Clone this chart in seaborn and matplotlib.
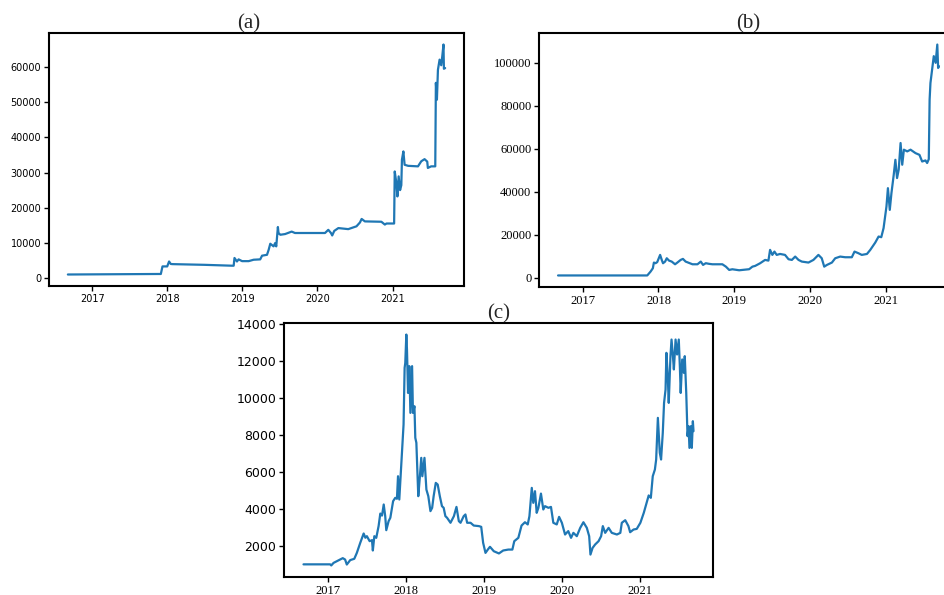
import matplotlib
matplotlib.use("Agg")
import matplotlib.pyplot as plt
import matplotlib.dates as mdates
import pandas as pd
import seaborn as sns

# ---------------- data ----------------
a_dates = ["2016-09-05", "2017-12-01", "2017-12-09", "2017-12-17", "2018-01-01", "2018-01-10",
           "2018-01-18", "2018-01-26", "2018-07-02", "2018-11-12", "2018-11-20", "2018-11-24",
           "2018-12-06", "2018-12-14", "2018-12-31", "2019-02-01", "2019-02-25", "2019-03-29",
           "2019-04-07", "2019-05-01", "2019-05-09", "2019-05-17", "2019-06-02", "2019-06-10",
           "2019-06-15", "2019-06-23", "2019-06-26", "2019-07-05", "2019-07-28", "2019-08-29",
           "2019-09-14", "2020-02-07", "2020-02-23", "2020-03-07", "2020-03-13", "2020-03-23",
           "2020-04-12", "2020-05-30", "2020-07-09", "2020-07-26", "2020-08-03", "2020-08-19",
           "2020-11-07", "2020-11-24", "2020-12-02", "2021-01-08", "2021-01-11", "2021-01-19",
           "2021-01-24", "2021-01-30", "2021-02-06", "2021-02-12", "2021-02-15", "2021-02-22",
           "2021-02-28", "2021-03-17", "2021-05-04", "2021-05-20", "2021-06-05", "2021-06-18",
           "2021-06-21", "2021-07-07", "2021-07-27", "2021-07-30", "2021-08-04", "2021-08-09",
           "2021-08-17", "2021-08-25", "2021-08-30", "2021-09-05", "2021-09-07", "2021-09-13"]
a_values = [1000, 1150, 3300, 3300, 3300, 4700,
            4000, 3950, 3750, 3500, 3500, 5700,
            4700, 5300, 4800, 4800, 5200, 5300,
            6350, 6600, 8000, 9750, 9000, 9950,
            9000, 14500, 12800, 12300, 12500, 13200,
            12800, 12800, 13700, 12800, 12100, 13400,
            14200, 13900, 14700, 15800, 16800, 16100,
            16000, 15200, 15500, 15500, 30300, 27000,
            23200, 28900, 25000, 26400, 33650, 36000,
            32200, 31900, 31750, 33200, 33800, 33100,
            31300, 31750, 31750, 55500, 50700, 59200,
            62100, 60500, 63000, 66400, 59500, 59700]

b_dates = ["2016-09-04", "2017-11-08", "2017-11-24", "2017-12-05", "2017-12-10", "2017-12-18",
           "2017-12-26", "2018-01-09", "2018-01-17", "2018-01-23", "2018-02-02", "2018-02-10",
           "2018-02-21", "2018-03-06", "2018-03-22", "2018-04-02", "2018-04-18", "2018-04-29",
           "2018-05-12", "2018-06-14", "2018-07-08", "2018-07-24", "2018-08-04", "2018-08-17",
           "2018-09-02", "2018-09-18", "2018-11-05", "2018-11-22", "2018-12-08", "2018-12-23",
           "2019-01-25", "2019-03-14", "2019-03-30", "2019-04-12", "2019-05-06", "2019-05-30",
           "2019-06-15", "2019-06-23", "2019-07-04", "2019-07-14", "2019-07-25", "2019-08-10",
           "2019-09-03", "2019-09-20", "2019-10-06", "2019-10-22", "2019-11-07", "2019-11-23",
           "2019-12-25", "2020-01-18", "2020-02-11", "2020-02-27", "2020-03-10", "2020-03-23",
           "2020-04-16", "2020-05-02", "2020-05-26", "2020-06-19", "2020-07-21", "2020-08-03",
           "2020-08-22", "2020-09-07", "2020-10-02", "2020-10-18", "2020-11-11", "2020-11-27",
           "2020-12-10", "2020-12-21", "2021-01-04", "2021-01-11", "2021-01-20", "2021-01-28",
           "2021-02-08", "2021-02-16", "2021-02-24", "2021-03-04", "2021-03-13", "2021-03-21",
           "2021-03-29", "2021-04-14", "2021-04-30", "2021-05-24", "2021-06-12", "2021-06-25",
           "2021-07-11", "2021-07-19", "2021-07-27", "2021-07-31", "2021-08-04", "2021-08-12",
           "2021-08-20", "2021-08-29", "2021-09-06", "2021-09-10", "2021-09-14"]
b_values = [1000, 1000, 2800, 4350, 7000, 6700,
            7200, 10560, 8200, 6680, 7450, 9000,
            7900, 7450, 6200, 6990, 8230, 8700,
            7450, 6200, 6200, 7450, 5900, 6700,
            6400, 6200, 6200, 5100, 3570, 3880,
            3410, 3900, 5100, 5440, 6680, 8230,
            7900, 12900, 10560, 12100, 10560, 11000,
            10560, 8540, 8230, 9780, 8230, 7450,
            7000, 8230, 10560, 9000, 5100, 5900,
            7000, 9000, 9780, 9470, 9470, 12100,
            11330, 10560, 11000, 12900, 16300, 19100,
            18800, 23000, 33100, 41600, 31500, 39300,
            47800, 54800, 46300, 50200, 62600, 52500,
            59500, 58700, 59500, 57900, 57100, 54000,
            54500, 53300, 55100, 82800, 90500, 96750,
            103000, 99900, 108400, 97500, 98300]

c_dates = ["2016-09-08", "2017-01-11", "2017-01-16", "2017-01-27", "2017-02-11", "2017-02-27",
           "2017-03-11", "2017-03-22", "2017-03-30", "2017-04-15", "2017-05-04", "2017-05-16",
           "2017-06-01", "2017-06-17", "2017-06-25", "2017-07-02", "2017-07-15", "2017-07-26",
           "2017-07-30", "2017-08-06", "2017-08-15", "2017-08-26", "2017-09-03", "2017-09-11",
           "2017-09-19", "2017-09-26", "2017-10-01", "2017-10-12", "2017-10-20", "2017-11-02",
           "2017-11-12", "2017-11-20", "2017-11-25", "2017-12-01", "2017-12-09", "2017-12-17",
           "2017-12-21", "2017-12-26", "2017-12-29", "2018-01-03", "2018-01-06", "2018-01-11",
           "2018-01-17", "2018-01-22", "2018-01-30", "2018-02-03", "2018-02-10", "2018-02-14",
           "2018-02-19", "2018-02-28", "2018-03-07", "2018-03-14", "2018-03-19", "2018-03-29",
           "2018-04-07", "2018-04-16", "2018-04-26", "2018-05-04", "2018-05-11", "2018-05-21",
           "2018-05-30", "2018-06-09", "2018-06-19", "2018-06-27", "2018-07-05", "2018-07-13",
           "2018-07-29", "2018-08-14", "2018-08-26", "2018-09-06", "2018-09-14", "2018-09-29",
           "2018-10-07", "2018-10-15", "2018-10-31", "2018-11-15", "2018-12-09", "2018-12-20",
           "2018-12-29", "2019-01-09", "2019-01-20", "2019-01-30", "2019-02-17", "2019-03-13",
           "2019-04-02", "2019-04-26", "2019-05-15", "2019-05-24", "2019-06-12", "2019-06-27",
           "2019-07-13", "2019-07-26", "2019-08-03", "2019-08-14", "2019-08-21", "2019-08-29",
           "2019-09-06", "2019-09-14", "2019-09-26", "2019-10-07", "2019-10-15", "2019-10-31",
           "2019-11-12", "2019-11-23", "2019-12-09", "2019-12-20", "2020-01-02", "2020-01-17",
           "2020-02-01", "2020-02-14", "2020-02-25", "2020-03-12", "2020-03-28", "2020-04-12",
           "2020-04-28", "2020-05-09", "2020-05-15", "2020-05-25", "2020-06-06", "2020-06-22",
           "2020-07-04", "2020-07-12", "2020-07-23", "2020-08-08", "2020-08-23", "2020-09-16",
           "2020-10-02", "2020-10-09", "2020-10-25", "2020-11-09", "2020-11-17", "2020-12-03",
           "2020-12-18", "2021-01-04", "2021-01-20", "2021-01-31", "2021-02-12", "2021-02-22",
           "2021-03-03", "2021-03-13", "2021-03-19", "2021-03-27", "2021-03-31", "2021-04-05",
           "2021-04-11", "2021-04-19", "2021-04-25", "2021-05-02", "2021-05-06", "2021-05-12",
           "2021-05-17", "2021-05-25", "2021-05-30", "2021-06-05", "2021-06-10", "2021-06-18",
           "2021-06-25", "2021-07-03", "2021-07-08", "2021-07-12", "2021-07-19", "2021-07-27",
           "2021-07-31", "2021-08-07", "2021-08-13", "2021-08-18", "2021-08-22", "2021-08-29",
           "2021-09-02", "2021-09-07", "2021-09-10"]
c_values = [1000, 1000, 940, 1080, 1170, 1260,
            1335, 1260, 990, 1230, 1300, 1620,
            2165, 2670, 2440, 2525, 2255, 2310,
            1750, 2525, 2435, 3070, 3750, 3640,
            4240, 3610, 2850, 3340, 3520, 4420,
            4600, 4550, 5770, 4510, 6130, 7760,
            8570, 11640, 11900, 13440, 12630, 10280,
            11730, 9200, 11730, 9200, 9560, 7850,
            7580, 4690, 5680, 6765, 5770, 6765,
            5050, 4690, 3880, 4060, 4690, 5410,
            5320, 4690, 4150, 4060, 3610, 3520,
            3250, 3610, 4110, 3340, 3250, 3610,
            3700, 3250, 3250, 3100, 3070, 3030,
            2165, 1620, 1800, 1950, 1710, 1590,
            1750, 1800, 1800, 2255, 2435, 3100,
            3280, 3160, 3610, 5140, 4330, 4960,
            3790, 4060, 4830, 3970, 4150, 4060,
            4110, 3250, 3160, 3570, 3250, 2615,
            2800, 2435, 2705, 2525, 2975, 3280,
            2975, 2525, 1530, 1890, 2075, 2255,
            2525, 3070, 2705, 2975, 2705, 2615,
            2705, 3250, 3390, 3070, 2740, 2885,
            2920, 3250, 3790, 4240, 4730, 4600,
            5770, 6130, 6675, 8930, 8120, 7040,
            6675, 8120, 9740, 10460, 12450, 11275,
            9740, 12270, 13170, 12360, 11550, 13170,
            12360, 13170, 11725, 10280, 12090, 11365,
            12270, 10280, 7940, 8480, 7305, 8480,
            7305, 8750, 8210]

year_ticks = ["2017-01-01", "2018-01-01", "2019-01-01", "2020-01-01", "2021-01-01"]
a_yticks = [0, 10000, 20000, 30000, 40000, 50000, 60000]
b_yticks = [0, 20000, 40000, 60000, 80000, 100000]
c_yticks = [2000, 4000, 6000, 8000, 10000, 12000, 14000]
titles = ["(a)", "(b)", "(c)"]

# ---------------- style ----------------
sns.set_style("ticks")
plt.rcParams.update({
    "axes.edgecolor": "black",
    "axes.linewidth": 1.5,
    "xtick.color": "black",
    "ytick.color": "black",
    "xtick.major.size": 3.5,
    "ytick.major.size": 3.5,
    "xtick.major.width": 1.0,
    "ytick.major.width": 1.0,
})
SANS = ["DejaVu Sans"]
SERIF = ["Liberation Serif", "DejaVu Serif"]
LINE = "#1f77b4"

fig = plt.figure(figsize=(9.44, 5.95), dpi=100)
W, H = 944, 595


def add_ax(l, t, r, b):
    return fig.add_axes([l / W, 1 - b / H, (r - l) / W, (b - t) / H])


ax_a = add_ax(49, 33, 464, 286)
ax_b = add_ax(539, 33, 958, 287)
ax_c = add_ax(284, 323, 713, 577)

panels = [
    (ax_a, a_dates, a_values, a_yticks, SANS, SANS, 7.0, 7.0, 0.48, 2),
    (ax_b, b_dates, b_values, b_yticks, SERIF, SERIF, 9.0, 9.0, 0.5, 2),
    (ax_c, c_dates, c_values, c_yticks, SANS, SERIF, 9.0, 9.0, 0.5, 3),
]

for i, (ax, d, v, yt, yfam, xfam, ysz, xsz, tx, tpad) in enumerate(panels):
    df = pd.DataFrame({"date": pd.to_datetime(d), "value": v})
    sns.lineplot(data=df, x="date", y="value", ax=ax, color=LINE,
                 linewidth=1.6, estimator=None, sort=False)
    ax.set_xlabel("")
    ax.set_ylabel("")
    ax.set_xticks(pd.to_datetime(year_ticks))
    ax.xaxis.set_major_formatter(mdates.DateFormatter("%Y"))
    ax.set_yticks(yt)
    ax.tick_params(axis="y", labelsize=ysz, labelfontfamily=yfam, pad=2)
    ax.tick_params(axis="x", labelsize=xsz, labelfontfamily=xfam, pad=2)
    ax.set_title(titles[i], fontsize=15, family=SERIF, x=tx, pad=tpad)

fig.savefig("out.png", dpi=100)
